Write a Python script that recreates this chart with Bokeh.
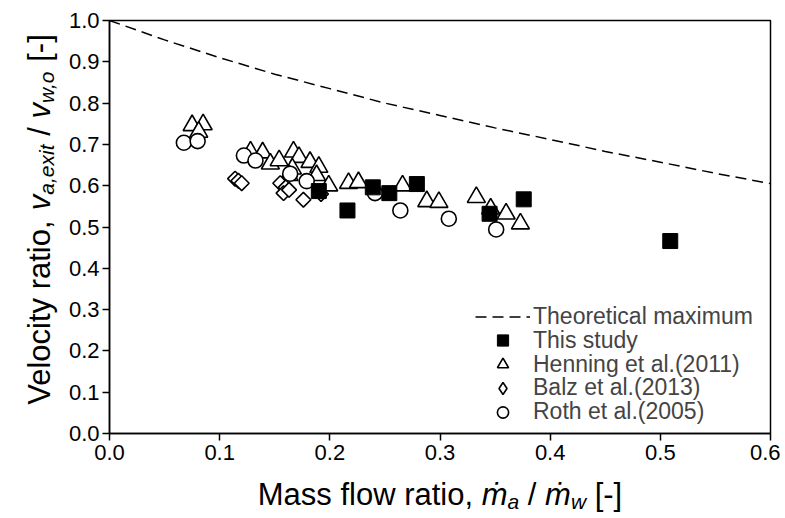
import numpy as np
from bokeh.plotting import figure
from bokeh.layouts import column, row
from bokeh.models import Range1d, Label, Legend, LegendItem, FixedTicker, PrintfTickFormatter
from bokeh.embed import file_html
from bokeh.resources import INLINE

# ---------------- data ----------------
theo_x = [0.0, 0.05, 0.1, 0.15, 0.2, 0.25, 0.3, 0.35, 0.4, 0.45, 0.5, 0.55, 0.6]
theo_y = [1.0, 0.953, 0.91, 0.87, 0.835, 0.80, 0.77, 0.74, 0.712, 0.683, 0.657, 0.63, 0.605]

study_x = [0.190, 0.216, 0.239, 0.254, 0.279, 0.345, 0.376, 0.509]
study_y = [0.587, 0.540, 0.596, 0.582, 0.604, 0.532, 0.567, 0.466]

henning_x = [0.075, 0.085, 0.081, 0.128, 0.139, 0.146, 0.154, 0.167, 0.172, 0.166, 0.182,
             0.190, 0.188, 0.163, 0.199, 0.217, 0.226, 0.266, 0.288, 0.299, 0.333, 0.346,
             0.360, 0.373]
henning_y = [0.746, 0.748, 0.730, 0.682, 0.680, 0.653, 0.661, 0.682, 0.669, 0.641, 0.657,
             0.645, 0.625, 0.625, 0.600, 0.606, 0.608, 0.600, 0.562, 0.560, 0.572, 0.544,
             0.532, 0.508]

balz_x = [0.114, 0.117, 0.120, 0.155, 0.160, 0.158, 0.163, 0.176, 0.192]
balz_y = [0.617, 0.612, 0.606, 0.606, 0.596, 0.582, 0.590, 0.566, 0.580]

roth_x = [0.0675, 0.080, 0.122, 0.1325, 0.164, 0.179, 0.241, 0.264, 0.308, 0.351]
roth_y = [0.704, 0.708, 0.673, 0.661, 0.629, 0.611, 0.582, 0.540, 0.520, 0.494]

x_ticks = [0.0, 0.1, 0.2, 0.3, 0.4, 0.5, 0.6]
y_ticks = [0.0, 0.1, 0.2, 0.3, 0.4, 0.5, 0.6, 0.7, 0.8, 0.9, 1.0]

legend_labels = ["Theoretical maximum", "This study", "Henning et al.(2011)",
                 "Balz et al.(2013)", "Roth et al.(2005)"]

FONT = "Liberation Sans"

# ---------------- main figure ----------------
p = figure(width=720, height=470, output_backend="svg", toolbar_location=None,
           x_range=Range1d(0, 0.6), y_range=Range1d(0, 1.0),
           min_border_left=49, min_border_right=10, min_border_top=20, min_border_bottom=37)
p.grid.visible = False
p.outline_line_color = "black"
p.outline_line_width = 1.5
p.outline_line_alpha = 1.0
p.background_fill_color = "white"

p.xaxis.ticker = FixedTicker(ticks=x_ticks)
p.yaxis.ticker = FixedTicker(ticks=y_ticks)
for ax in (p.xaxis, p.yaxis):
    ax.formatter = PrintfTickFormatter(format="%.1f")
    ax.axis_line_width = 1.5
    ax.axis_line_color = "black"
    ax.major_tick_line_width = 1.5
    ax.major_tick_line_color = "black"
    ax.major_tick_out = 7
    ax.major_tick_in = 0
    ax.minor_tick_line_color = None
    ax.major_label_text_font = FONT
    ax.major_label_text_font_size = "22px"
    ax.major_label_text_color = "black"
p.xaxis.major_label_standoff = 4
p.yaxis.major_label_standoff = 3

lw = 1.6
r_theo = p.line(theo_x, theo_y, line_color="black", line_width=1.5, line_dash="11 6")
r_hen = p.scatter(henning_x, henning_y, marker="triangle", size=18, fill_color="white",
                  line_color="black", line_width=lw)
r_balz = p.scatter(balz_x, balz_y, marker="square", angle=np.pi / 4, size=10.5,
                   fill_color="white", line_color="black", line_width=lw)
r_balz_leg = p.scatter(balz_x, balz_y, marker="diamond", size=14, fill_color="white",
                       line_color="black", line_width=lw, visible=False)
r_roth = p.scatter(roth_x, roth_y, marker="circle", size=15, fill_color="white",
                   line_color="black", line_width=lw)
r_study = p.scatter(study_x, study_y, marker="square", size=15, fill_color="black",
                    line_color="black", line_width=1)

# one legend per entry so that the row pitch can follow the reference
LEG_FS = 23
row_centers = [316.7, 340.4, 364.2, 387.9, 411.7]   # page px of each legend row
frame_bottom = 433
leg_renderers = [r_theo, r_study, r_hen, r_balz_leg, r_roth]
glyph_hs = [23, 28, 28, 30, 28]
for lab, rend, gh, cy in zip(legend_labels, leg_renderers, glyph_hs, row_centers):
    h = max(gh, LEG_FS * 1.15)
    lg = Legend(items=[LegendItem(label=lab, renderers=[rend])],
                location=(366, frame_bottom - cy - h / 2), label_text_font=FONT,
                label_text_font_size=f"{LEG_FS}px", glyph_width=55, glyph_height=gh,
                label_height=20, label_standoff=3, spacing=0, padding=0, margin=0,
                border_line_alpha=0, background_fill_alpha=0)
    p.add_layout(lg)

# ---------------- axis titles (rich text built from labels) ----------------
W = {' ': 278, 'a': 556, 'b': 556, 'c': 500, 'd': 556, 'e': 556, 'f': 278, 'g': 556,
     'h': 556, 'i': 222, 'j': 222, 'k': 500, 'l': 222, 'm': 833, 'n': 556, 'o': 556,
     'p': 556, 'q': 556, 'r': 333, 's': 500, 't': 278, 'u': 556, 'v': 500, 'w': 722,
     'x': 500, 'y': 500, 'z': 500, 'M': 833, 'V': 667, ',': 278, '/': 278, '[': 278,
     ']': 278, '-': 333, '\u1e41': 833}


def tw(s, size):
    return sum(W.get(c, 556) for c in s) * size / 1000.0


def blank_fig(w, h):
    f = figure(width=w, height=h, output_backend="svg", toolbar_location=None, title=None,
               x_range=Range1d(0, w), y_range=Range1d(0, h), min_border=0,
               x_axis_type=None, y_axis_type=None)
    f.outline_line_color = None
    f.grid.visible = False
    f.background_fill_color = "white"
    f.border_fill_color = "white"
    return f


def pieces(parts):
    out = []
    pos = 0.0
    for s, f, st, dy in parts:
        stripped = s.lstrip(" ")
        lead = tw(s[:len(s) - len(stripped)], f)
        out.append((stripped.rstrip(" "), f, st, dy, pos + lead))
        pos += tw(s, f)
    return out, pos


TF = 31
SF = 21
SUB = 7
x_title = [("Mass flow ratio, ", TF, "normal", 0), ("\u1e41", TF, "italic", 0),
           ("a", SF, "italic", -SUB), (" / ", TF, "normal", 0), ("\u1e41", TF, "italic", 0),
           ("w", SF, "italic", -SUB), (" [-]", TF, "normal", 0)]
y_title = [("Velocity ratio, ", TF, "normal", 0), ("v", TF, "italic", 0),
           ("a,exit", SF, "italic", -SUB), (" / ", TF, "normal", 0), ("v", TF, "italic", 0),
           ("w,o", SF, "italic", -SUB), (" [-]", TF, "normal", 0)]

xfig = blank_fig(780, 47)
parts, total = pieces(x_title)
for s, f, st, dy, adv in parts:
    xfig.add_layout(Label(x=439.5, y=23, x_units="data", y_units="data", text=s,
                          x_offset=-total / 2 + adv, y_offset=dy,
                          text_font=FONT, text_font_size=f"{f}px", text_font_style=st,
                          text_align="left", text_baseline="alphabetic", text_color="black"))

yfig = blank_fig(60, 470)
parts, total = pieces(y_title)
for s, f, st, dy, adv in parts:
    yfig.add_layout(Label(x=39, y=243.5, x_units="data", y_units="data", text=s,
                          x_offset=-dy, y_offset=-total / 2 + adv,
                          angle=np.pi / 2, text_font=FONT, text_font_size=f"{f}px",
                          text_font_style=st, text_align="left", text_baseline="alphabetic",
                          text_color="black"))

layout = column(row(yfig, p), xfig)
open("out.html", "w").write(file_html(layout, INLINE))
